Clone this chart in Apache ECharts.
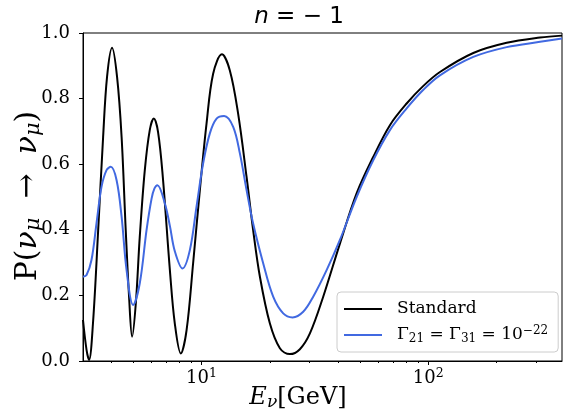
<!DOCTYPE html>
<html>
<head>
<meta charset="utf-8">
<script src="https://cdn.jsdelivr.net/npm/echarts@6/dist/echarts.min.js"></script>
<style>
  html, body { margin: 0; padding: 0; background: #fff; }
  #chart { width: 566px; height: 416px; }
</style>
</head>
<body>
<div id="chart"></div>
<script>
// Survival probability P(nu_mu -> nu_mu) versus neutrino energy (GeV)
const energyStandard = [3.0, 3.11, 3.19, 3.32, 3.50, 3.68, 3.83, 4.03, 4.24, 4.44, 4.63, 4.79, 4.94,
  5.13, 5.34, 5.62, 5.91, 6.16, 6.43, 6.75, 7.25, 7.62, 8.10, 8.59, 9.18, 9.83, 10.52, 11.25, 12.29,
  13.33, 14.50, 15.80, 16.89, 18.09, 20.01, 22.16, 24.53, 27.15, 30.06, 34.41, 40.77, 48.31, 57.18,
  67.76, 80.30, 94.9, 112.6, 158.0, 221.8, 311.2, 389.0];
const probStandard = [0.125, 0.034, 0.003, 0.115, 0.399, 0.683, 0.866, 0.955, 0.866, 0.683, 0.399, 0.196, 0.074,
  0.176, 0.379, 0.582, 0.704, 0.739, 0.698, 0.560, 0.277, 0.115, 0.023, 0.094, 0.298, 0.521, 0.724, 0.876, 0.935,
  0.886, 0.754, 0.561, 0.399, 0.257, 0.115, 0.039, 0.021, 0.036, 0.084, 0.196, 0.358, 0.511, 0.622,
  0.719, 0.785, 0.838, 0.881, 0.939, 0.970, 0.986, 0.992];

const energyDecay = [3.0, 3.11, 3.27, 3.44, 3.62, 3.81, 3.98, 4.22, 4.44, 4.67, 4.99, 5.34, 5.72, 6.02,
  6.20, 6.39, 6.89, 7.25, 7.62, 8.24, 8.88, 9.50, 10.16, 10.88, 11.65, 12.58, 13.79, 14.76, 15.80, 16.89,
  18.70, 20.70, 22.92, 25.21, 28.08, 31.08, 35.62, 40.77, 48.31, 57.18, 67.76, 80.30, 94.9, 112.6,
  158.0, 221.8, 311.2, 389.0];
const probDecay = [0.257, 0.262, 0.308, 0.419, 0.531, 0.582, 0.592, 0.551, 0.440, 0.277, 0.171, 0.237, 0.399, 0.495,
  0.526, 0.536, 0.480, 0.412, 0.335, 0.282, 0.338, 0.470, 0.602, 0.694, 0.739, 0.747, 0.714, 0.633, 0.521, 0.419,
  0.298, 0.196, 0.145, 0.133, 0.150, 0.196, 0.277, 0.369, 0.500, 0.612, 0.704, 0.770, 0.826, 0.871,
  0.927, 0.957, 0.973, 0.983];

const xMajorTicks = [10, 100];
const xMinorTicks = [4, 5, 6, 7, 8, 9, 20, 30, 40, 50, 60, 70, 80, 90, 200, 300];
const seriesNames = ['Standard', 'Gamma21 = Gamma31 = 1e-22'];

const SERIF = 'DejaVu Serif';
const SANS = 'DejaVu Sans';

const chart = echarts.init(document.getElementById('chart'), null, { renderer: 'canvas' });

const legendRich = {
  t: { fontFamily: SERIF, fontSize: 17, color: '#000' },
  s: { fontFamily: SERIF, fontSize: 12, color: '#000', padding: [8, 0, 0, 0] },
  p: { fontFamily: SERIF, fontSize: 12, color: '#000', padding: [0, 0, 9, 0] }
};

const option = {
  animation: false,
  backgroundColor: '#fff',
  grid: {
    left: 83, right: 4, top: 33, bottom: 55,
    show: true, borderColor: '#000', borderWidth: 1, backgroundColor: 'transparent'
  },
  xAxis: [
    {
      type: 'log', logBase: 10, min: 3, max: 389,
      axisLine: { show: true, lineStyle: { color: '#000', width: 1 } },
      axisTick: { show: true, length: 4, customValues: xMajorTicks, lineStyle: { color: '#000' } },
      axisLabel: {
        customValues: xMajorTicks,
        margin: 6,
        formatter: v => '{b|10}{e|' + Math.round(Math.log10(v)) + '}',
        rich: {
          b: { fontFamily: SERIF, fontSize: 18, color: '#000' },
          e: { fontFamily: SERIF, fontSize: 12.5, color: '#000', padding: [0, 0, 9, 0] }
        }
      },
      splitLine: { show: false },
      minorTick: { show: false }
    },
    {
      type: 'log', logBase: 10, min: 3, max: 389, position: 'bottom',
      axisLine: { show: false },
      axisTick: { show: true, length: 2, customValues: xMinorTicks, lineStyle: { color: '#000' } },
      axisLabel: { show: false },
      splitLine: { show: false }
    }
  ],
  yAxis: {
    type: 'value', min: 0, max: 1, interval: 0.2,
    axisLine: { show: true, lineStyle: { color: '#000', width: 1 } },
    axisTick: { show: true, length: 4, lineStyle: { color: '#000' } },
    axisLabel: {
      margin: 13,
      fontFamily: SERIF, fontSize: 18, color: '#000',
      formatter: v => v.toFixed(1)
    },
    splitLine: { show: false }
  },
  legend: {
    orient: 'vertical',
    left: 337, top: 292,
    padding: [6, 10, 6, 7],
    icon: 'rect',
    itemWidth: 38, itemHeight: 2, itemGap: 4,
    backgroundColor: 'rgba(255,255,255,0.8)',
    borderColor: '#cccccc', borderWidth: 1, borderRadius: 4,
    data: seriesNames,
    textStyle: { padding: [0, 0, 0, 10], lineHeight: 22, rich: legendRich },
    formatter: name => name === seriesNames[0]
      ? '{t|Standard}'
      : '{t|Γ}{s|21}{t| = Γ}{s|31}{t| = 10}{p|−22}'
  },
  series: [
    {
      name: seriesNames[0], type: 'line', xAxisIndex: 0,
      data: energyStandard.map((e, i) => [e, probStandard[i]]),
      showSymbol: false, symbol: 'none',
      smooth: 0.35,
      lineStyle: { color: '#000000', width: 2 },
      itemStyle: { color: '#000000' }
    },
    {
      name: seriesNames[1], type: 'line', xAxisIndex: 0,
      data: energyDecay.map((e, i) => [e, probDecay[i]]),
      showSymbol: false, symbol: 'none',
      smooth: 0.35,
      lineStyle: { color: '#4169E1', width: 2 },
      itemStyle: { color: '#4169E1' }
    }
  ],
  graphic: [
    {
      type: 'text', x: 299, y: 17,
      style: {
        text: '{i|n}{r| = − 1}',
        align: 'center', verticalAlign: 'middle',
        rich: {
          i: { fontFamily: SANS, fontStyle: 'italic', fontSize: 23, color: '#000' },
          r: { fontFamily: SANS, fontSize: 23, color: '#000' }
        }
      }
    },
    {
      type: 'text', x: 298, y: 398,
      style: {
        text: '{i|E}{s|ν}{r|[GeV]}',
        align: 'center', verticalAlign: 'middle',
        rich: {
          i: { fontFamily: SERIF, fontStyle: 'italic', fontSize: 24, color: '#000' },
          s: { fontFamily: SERIF, fontStyle: 'italic', fontSize: 17, color: '#000', padding: [9, 0, 0, 0] },
          r: { fontFamily: SERIF, fontSize: 24, color: '#000' }
        }
      }
    },
    {
      type: 'text', x: 28, y: 196, rotation: Math.PI / 2,
      style: {
        text: '{r|P(}{i|ν}{s|μ}{r|  →  }{i|ν}{s|μ}{r|)}',
        align: 'center', verticalAlign: 'middle',
        rich: {
          r: { fontFamily: SERIF, fontSize: 30, color: '#000' },
          i: { fontFamily: SERIF, fontStyle: 'italic', fontSize: 30, color: '#000' },
          s: { fontFamily: SERIF, fontStyle: 'italic', fontSize: 21, color: '#000', padding: [11, 0, 0, 0] }
        }
      }
    }
  ]
};

chart.setOption(option);
</script>
</body>
</html>
